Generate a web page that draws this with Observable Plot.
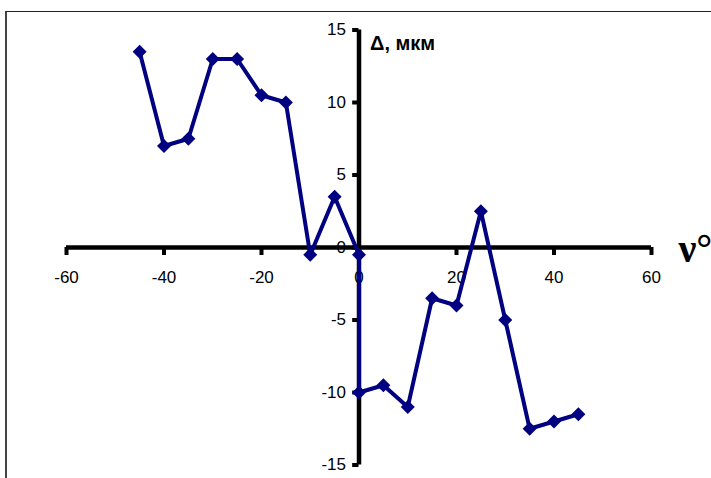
<!DOCTYPE html>
<html>
<head>
<meta charset="utf-8">
<script src="https://cdn.jsdelivr.net/npm/d3@7"></script>
<script src="https://cdn.jsdelivr.net/npm/@observablehq/plot@0.6"></script>
<style>
  html, body { margin: 0; padding: 0; background: #fff; }
  #wrap { position: relative; width: 711px; height: 478px; overflow: hidden; }
  #border { position: absolute; left: 5px; top: 11px; width: 720px; height: 480px;
            border-top: 1px solid #222; border-left: 2px solid #444; pointer-events: none; }
</style>
</head>
<body>
<div id="wrap"><div id="border"></div></div>
<script>
const angles = [-45, -40, -35, -30, -25, -20, -15, -10, -5, 0, 0, 5, 10, 15, 20, 25, 30, 35, 40, 45];
const deltas = [13.5, 7, 7.5, 13, 13, 10.5, 10, -0.5, 3.5, -0.5, -10, -9.5, -11, -3.5, -4, 2.5, -5, -12.5, -12, -11.5];
const xTicks = [-60, -40, -20, 0, 20, 40, 60];
const yTicks = [-15, -10, -5, 0, 5, 10, 15];
const yLabel = "Δ, мкм";
const xLabel = "ν°";

const data = angles.map((a, i) => ({a, d: deltas[i]}));
const font = "'Liberation Sans', Arial, sans-serif";

const chart = Plot.plot({
  width: 711,
  height: 478,
  margin: 0,
  style: {fontFamily: font, background: "transparent"},
  x: {domain: [-60, 60], range: [66, 651], axis: null},
  y: {domain: [-15, 15], range: [464.5, 29.5], axis: null},
  marks: [
    Plot.ruleY([0], {x1: -60, x2: 60, stroke: "#000", strokeWidth: 4.5}),
    Plot.ruleX(xTicks, {x: d => d, y1: 0, y2: -0.55, stroke: "#000", strokeWidth: 4}),
    Plot.ruleX([0], {y1: -15, y2: 15, stroke: "#000", strokeWidth: 4.5}),
    Plot.ruleY(yTicks, {y: d => d, x1: 0, x2: -1.3, stroke: "#000", strokeWidth: 4}),
    Plot.text(xTicks, {x: d => d, y: 0, dy: 30, text: d => String(d), fontSize: 17, fill: "#000"}),
    Plot.text(yTicks, {x: 0, y: d => d, dx: -13, textAnchor: "end", text: d => String(d), fontSize: 17, fill: "#000"}),
    Plot.line(data, {x: "a", y: "d", stroke: "#000080", strokeWidth: 4}),
    Plot.dot(data, {x: "a", y: "d", symbol: "diamond2", r: 6.3, fill: "#000080", stroke: "none"}),
    Plot.text([yLabel], {x: 0, y: 15, dx: 11, dy: 14, textAnchor: "start", text: d => d, fontSize: 20, fontWeight: "bold", fill: "#000"}),
    Plot.text([xLabel], {x: 60, y: 0, dx: 27, dy: 2, textAnchor: "start", text: d => d, fontSize: 40, fontWeight: 600, fontFamily: "'Liberation Serif', 'Times New Roman', serif", fill: "#000"})
  ]
});
document.getElementById("wrap").prepend(chart);
</script>
</body>
</html>
